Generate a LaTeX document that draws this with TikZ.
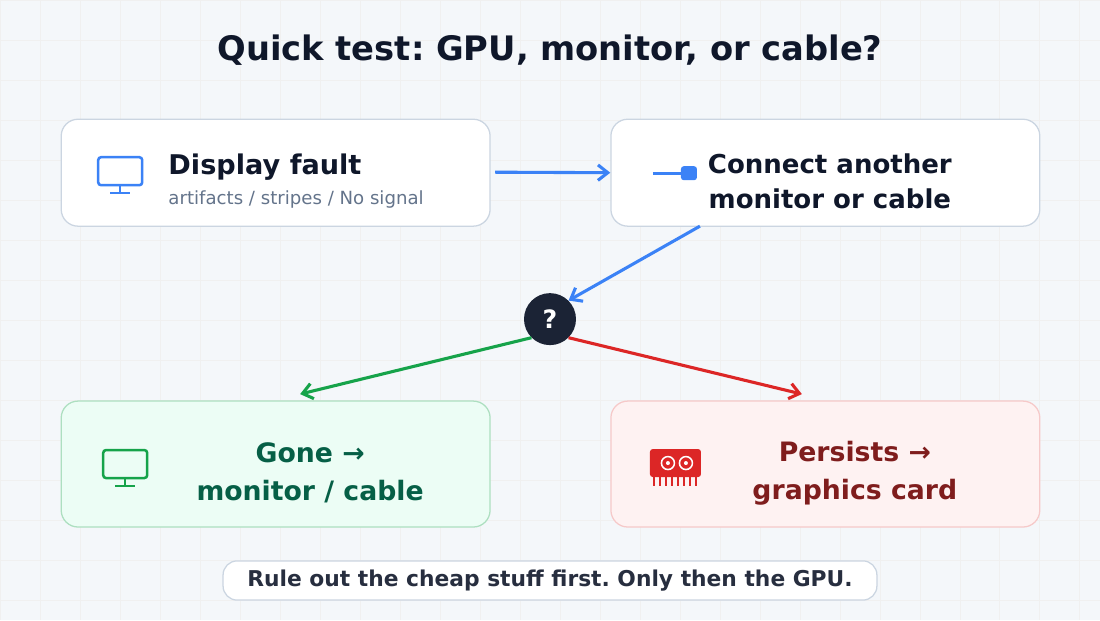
\documentclass[tikz,border=0pt]{standalone}
\usepackage{fontspec}
\setmainfont{DejaVu Sans}
\usetikzlibrary{arrows.meta,positioning}
\definecolor{ink}{HTML}{0F172A}
\definecolor{sub}{HTML}{64748B}
\definecolor{edge}{HTML}{CBD5E1}
\definecolor{bluea}{HTML}{3B82F6}
\definecolor{greena}{HTML}{16A34A}
\definecolor{greent}{HTML}{065F46}
\definecolor{reda}{HTML}{DC2626}
\definecolor{redt}{HTML}{7F1D1D}
\definecolor{paper}{HTML}{F4F7FA}
\definecolor{greenbg}{HTML}{ECFDF5}
\definecolor{redbg}{HTML}{FEF2F2}
\tikzset{card/.style={draw=edge, line width=0.9pt, rounded corners=12pt, fill=white,
                      minimum width=10.725cm, minimum height=2.675cm},
         flow/.style={line width=2.2pt, -{Straight Barb[length=7pt,width=11pt]}}}
\frenchspacing
\begin{document}
\begin{tikzpicture}[x=0.025cm, y=-0.025cm]
    \fill[paper] (0,0) rectangle (1100,620);
    \foreach \Xcoor in {0,40,...,1100}
        \draw[black!6, line width=0.4pt] (\Xcoor,0) -- (\Xcoor,620);
    \foreach \Ycoor in {0,40,...,620}
        \draw[black!6, line width=0.4pt] (0,\Ycoor) -- (1100,\Ycoor);
    \useasboundingbox (0,0) rectangle (1100,620);
    % title
    \node[text=ink, font=\bfseries\fontsize{24}{28}\selectfont] (title) at (550,50) {Quick test: GPU, monitor, or cable?};
    % cards
    \node[card] (fault) at (275.5,172.5) {};
    \node[card] (swap) at (825.5,172.5) {};
    \node[card, draw=greena!35, fill=greenbg, minimum height=3.15cm] (gone) at (275.5,464) {};
    \node[card, draw=reda!25, fill=redbg, minimum height=3.15cm] (keep) at (825.5,464) {};
    % texts
    \node[anchor=west, text=ink, font=\bfseries\fontsize{19.3}{22}\selectfont, inner sep=0pt] (faultT) at (168,167) {Display fault};
    \node[anchor=west, text=sub, font=\fontsize{12.9}{14}\selectfont, inner sep=0pt] (faultS) at (168,199) {artifacts / stripes / No signal};
    \node[text=ink, align=center, font=\bfseries\fontsize{18.5}{25}\selectfont] (swapT) at (830,181) {Connect another\\monitor or cable};
    \node[text=greent, align=center, font=\bfseries\fontsize{19}{27}\selectfont] (goneT) at (310,473) {Gone →\\monitor / cable};
    \node[text=redt, align=center, font=\bfseries\fontsize{19}{27}\selectfont] (keepT) at (855,473) {Persists →\\graphics card};
    % icons
    \draw[bluea, line width=1.8pt, rounded corners=2pt] (98,157) rectangle (142,185);
    \draw[bluea, line width=1.8pt] (120,185) -- (120,193) (110,193) -- (130,193);
    \draw[greena, line width=1.8pt, rounded corners=2pt] (103,450) rectangle (147,478);
    \draw[greena, line width=1.8pt] (125,478) -- (125,486) (115,486) -- (135,486);
    \draw[bluea, line width=2pt] (653,173) -- (684,173);
    \fill[bluea, rounded corners=2pt] (681,166) rectangle (697,180);
    \fill[reda, rounded corners=2pt] (650,449) rectangle (701,477);
    \foreach \Xcoor in {654,660,...,696}
        \draw[reda, line width=1.3pt] (\Xcoor,477) -- (\Xcoor,486);
    \foreach \Xcoor in {668,686}
        {\draw[white, line width=1.1pt] (\Xcoor,463) circle (6.5);
         \fill[white] (\Xcoor,463) circle (2);}
    % decision
    \node[circle, fill=ink!95!white, text=white, minimum size=1.3cm, inner sep=0pt,
          font=\bfseries\fontsize{18}{20}\selectfont] (ask) at (550,319) {?};
    \coordinate (goneTip) at (300,394);
    \coordinate (keepTip) at (802,394);
    \draw[flow, bluea] (495,172) -- (swap.west);
    \draw[flow, bluea] (700,226) -- (ask.north east);
    \draw[flow, greena] (ask.south west) -- (goneTip);
    \draw[flow, reda] (ask.south east) -- (keepTip);
    % footer
    \node[draw=edge, line width=0.9pt, fill=white, rounded corners=10pt, minimum width=16.35cm,
          minimum height=0.98cm, text=ink!90, font=\bfseries\fontsize{15.5}{16}\selectfont] (note) at (550,580.5)
          {Rule out the cheap stuff first. Only then the GPU.};
\end{tikzpicture}
\end{document}
